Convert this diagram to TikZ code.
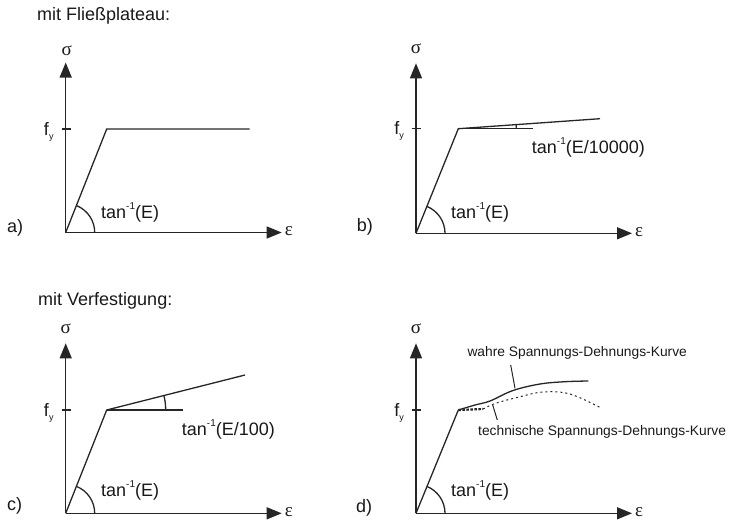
\documentclass[tikz,border=0pt]{standalone}
\usepackage{fontspec}
\setmainfont{Liberation Sans}
\newfontfamily\grk{Liberation Serif}
\usetikzlibrary{arrows.meta}
\tikzset{
 ln/.style={line width=1.3pt, draw=black!85},
 axisline/.style={ln, -{Triangle[length=15pt,width=12pt]}},
 txt/.style={inner sep=0pt, text=black!90, font=\fontsize{18}{18}\selectfont},
 smalltxt/.style={inner sep=0pt, text=black!90, font=\fontsize{13.8}{14}\selectfont},
 grklbl/.style={inner sep=0pt, text=black!90, font=\grk\fontsize{19}{19}\selectfont},
}
\newcommand{\tinv}[1]{tan\raisebox{9pt}{\fontsize{10}{10}\selectfont -1}#1}
\newcommand{\fyl}{f\raisebox{-4pt}{\fontsize{9}{9}\selectfont y}}
\begin{document}
\begin{tikzpicture}[x=1pt,y=-1pt]
\useasboundingbox (0,0) rectangle (730,525);
\node[txt,anchor=base west] (t1) at (37,20) {mit Fließplateau:};
\node[txt,anchor=base west] (t2) at (38,305) {mit Verfestigung:};

% ---------- panel a
\begin{scope}[shift={(65.7,232.5)}]
\coordinate (aO) at (0,0);
\coordinate (aT) at (0,-170);
\coordinate (aX) at (216,0);
\coordinate (aY) at (41,-103.5);
\coordinate (aE) at (184,-103.5);
\coordinate (aK1) at (-4,-103.5);
\coordinate (aK2) at (5,-103.5);
\draw[axisline] (aO) -- (aT);
\draw[axisline] (aO) -- (aX);
\draw[ln] (aK1) -- (aK2);
\draw[ln] (aO) -- (aY) -- (aE);
\draw[ln] (aO) ++(29pt,0pt) arc[start angle=0,end angle=68.4,radius=29pt];
\node[grklbl] (as) at (1,-182) {σ};
\node[grklbl,anchor=west] (ae) at (219,-1) {ε};
\node[txt,anchor=base east] (af) at (-12,-97.5) {\fyl};
\node[txt,anchor=base west] (atan) at (35.3,-14.5) {\tinv{(E)}};
\node[txt,anchor=west] (al) at (-58.7,-4.5) {a)};
\end{scope}

% ---------- panel b
\begin{scope}[shift={(416,233.3)}]
\coordinate (bO) at (0,0);
\coordinate (bT) at (0,-170);
\coordinate (bX) at (216,0);
\coordinate (bY) at (42.3,-104.6);
\coordinate (bR) at (117.3,-104.6);
\coordinate (bE) at (184,-114.6);
\coordinate (bK1) at (-4,-104.6);
\coordinate (bK2) at (5,-104.6);
\draw[axisline] (bO) -- (bT);
\draw[axisline] (bO) -- (bX);
\draw[ln] (bK1) -- (bK2);
\draw[ln] (bO) -- (bY) -- (bE);
\draw[ln] (bY) -- (bR);
\draw[ln] (bO) ++(29pt,0pt) arc[start angle=0,end angle=68,radius=29pt];
\draw[ln] (bY) ++(58pt,0pt) arc[start angle=0,end angle=4,radius=58pt];
\node[grklbl] (bs) at (0,-185) {σ};
\node[grklbl,anchor=west] (be) at (219,-1) {ε};
\node[txt,anchor=base east] (bf) at (-12,-98.5) {\fyl};
\node[txt,anchor=base west] (btan) at (35,-15) {\tinv{(E)}};
\node[txt,anchor=base west] (btan2) at (115.7,-80) {\tinv{(E/10000)}};
\node[txt,anchor=west] (bl) at (-59.3,-6.6) {b)};
\end{scope}

% ---------- panel c
\begin{scope}[shift={(65.7,513.3)}]
\coordinate (cO) at (0,0);
\coordinate (cT) at (0,-170);
\coordinate (cX) at (216,0);
\coordinate (cY) at (41,-103.3);
\coordinate (cR) at (117.6,-103.3);
\coordinate (cE) at (179.3,-138.3);
\coordinate (cK1) at (-4,-103.3);
\coordinate (cK2) at (5,-103.3);
\draw[axisline] (cO) -- (cT);
\draw[axisline] (cO) -- (cX);
\draw[ln] (cK1) -- (cK2);
\draw[ln] (cO) -- (cY) -- (cE);
\draw[ln] (cY) -- (cR);
\draw[ln] (cO) ++(29pt,0pt) arc[start angle=0,end angle=68.4,radius=29pt];
\draw[ln] (cY) ++(59pt,0pt) arc[start angle=0,end angle=14.2,radius=59pt];
\node[grklbl] (cs) at (0,-185) {σ};
\node[grklbl,anchor=west] (ce) at (219,-1) {ε};
\node[txt,anchor=base east] (cf) at (-12,-97.3) {\fyl};
\node[txt,anchor=base west] (ctan) at (35.3,-16.6) {\tinv{(E)}};
\node[txt,anchor=base west] (ctan2) at (116,-77.6) {\tinv{(E/100)}};
\node[txt,anchor=west] (cl) at (-58.7,-7) {c)};
\end{scope}

% ---------- panel d
\begin{scope}[shift={(416,513.3)}]
\coordinate (dO) at (0,0);
\coordinate (dT) at (0,-170);
\coordinate (dX) at (216,0);
\coordinate (dY) at (42.3,-103.3);
\coordinate (dP) at (67,-104.3);
\coordinate (dK1) at (-4,-103.3);
\coordinate (dK2) at (5,-103.3);
\draw[axisline] (dO) -- (dT);
\draw[axisline] (dO) -- (dX);
\draw[ln] (dK1) -- (dK2);
\draw[ln] (dO) -- (dY);
\draw[ln] plot[smooth,tension=0.6] coordinates {(42.3,-103.3) (59,-108.3) (74,-112.3) (97,-122.8) (124,-129.3) (149,-131.6) (172.3,-132.3)};
\draw[line width=2.2pt, draw=black!85, dash pattern=on 2.5pt off 1.5pt] (dY) -- (dP);
\draw[line width=1pt, draw=black!85, dash pattern=on 2pt off 3pt] plot[smooth,tension=0.6] coordinates {(67,-104.3) (79,-109.8) (101,-115.8) (127,-121.3) (154,-119.3) (185.7,-105)};
\draw[ln] (dO) ++(29pt,0pt) arc[start angle=0,end angle=68,radius=29pt];
\coordinate (dW1) at (94.7,-148.3);
\coordinate (dW2) at (99,-125);
\coordinate (dT1) at (76.7,-108.3);
\coordinate (dT2) at (81.3,-93.3);
\draw[line width=1pt, draw=black!85] (dW1) -- (dW2);
\draw[line width=1pt, draw=black!85] (dT1) -- (dT2);
\node[grklbl] (ds) at (0,-185) {σ};
\node[grklbl,anchor=west] (de) at (219,-1) {ε};
\node[txt,anchor=base east] (df) at (-12,-97.3) {\fyl};
\node[txt,anchor=base west] (dtan) at (35,-16.6) {\tinv{(E)}};
\node[smalltxt,anchor=west] (dwl) at (51.3,-160) {wahre Spannungs-Dehnungs-Kurve};
\node[smalltxt,anchor=west] (dtl) at (62,-81.6) {technische Spannungs-Dehnungs-Kurve};
\node[txt,anchor=west] (dl) at (-60,-5) {d)};
\end{scope}
\end{tikzpicture}
\end{document}
